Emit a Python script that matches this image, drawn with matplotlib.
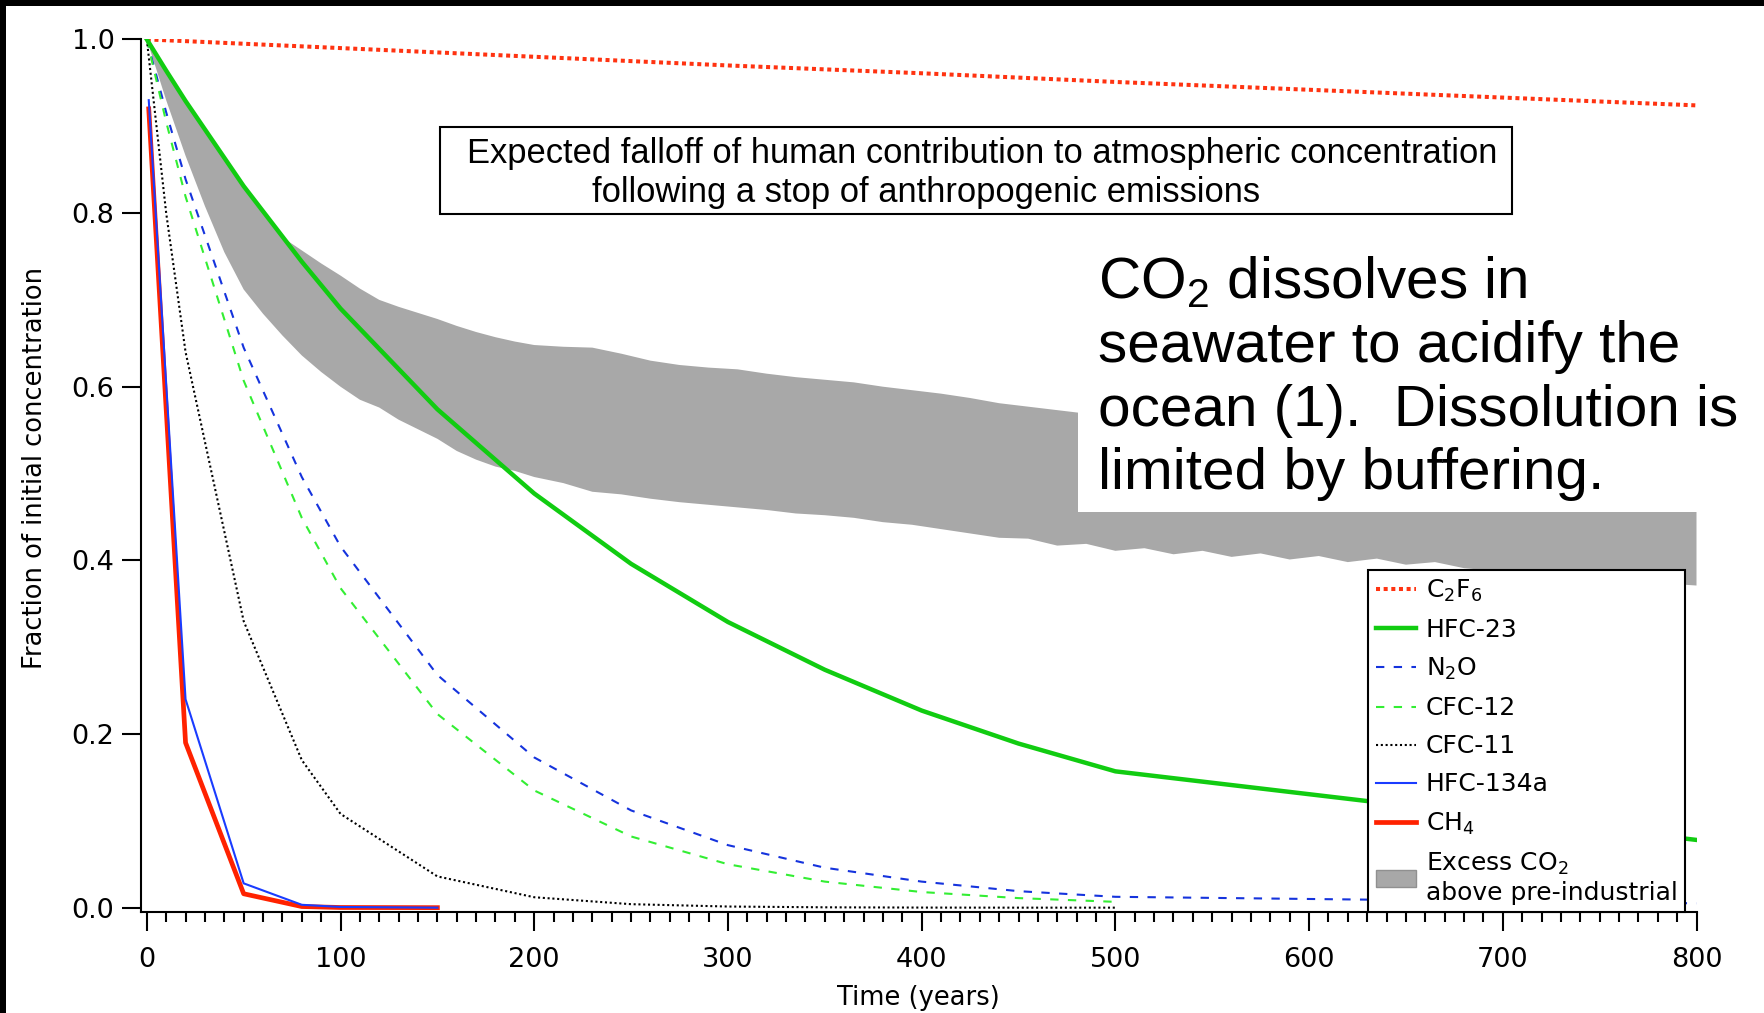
import matplotlib
matplotlib.use("Agg")
import matplotlib.pyplot as plt
import numpy as np
from matplotlib.lines import Line2D
from matplotlib.patches import Patch, Rectangle
from matplotlib.ticker import MultipleLocator, NullLocator, FormatStrFormatter

# ---------------------------------------------------------------- data
# Fraction of the initial human-caused excess remaining vs. time (years)
c2f6_years = [0, 100, 200, 300, 400, 500, 600, 700, 800]
c2f6_frac = [1.0, 0.990, 0.980, 0.970, 0.961, 0.951, 0.942, 0.933, 0.924]

hfc23_years = [0, 10, 20, 50, 80, 100, 150, 200, 250, 300, 350, 400, 450, 500, 800]
hfc23_frac = [1.0, 0.964, 0.929, 0.831, 0.744, 0.690, 0.574, 0.477, 0.396,
              0.329, 0.274, 0.227, 0.189, 0.157, 0.078]

n2o_years = [0, 10, 20, 50, 80, 100, 150, 200, 250, 300, 350, 400, 450, 500, 800]
n2o_frac = [1.0, 0.916, 0.839, 0.645, 0.496, 0.416, 0.268, 0.173, 0.112,
            0.072, 0.046, 0.030, 0.019, 0.0125, 0.005]

cfc12_years = [0, 10, 20, 50, 80, 100, 150, 200, 250, 300, 350, 400, 450, 500]
cfc12_frac = [1.0, 0.905, 0.819, 0.607, 0.449, 0.368, 0.223, 0.135, 0.082,
              0.050, 0.030, 0.018, 0.011, 0.0067]

cfc11_years = [0, 10, 20, 50, 80, 100, 150, 200, 250, 300, 350, 400, 450, 500]
cfc11_frac = [1.0, 0.80, 0.64, 0.33, 0.17, 0.108, 0.036, 0.012, 0.004,
              0.0013, 0.0004, 0.0001, 0.0, 0.0]

hfc134a_years = [1, 20, 50, 80, 100, 150]
hfc134a_frac = [0.93, 0.24, 0.028, 0.0033, 0.0008, 0.0]

ch4_years = [1, 20, 50, 80, 100, 150]
ch4_frac = [0.92, 0.19, 0.016, 0.0013, 0.0002, 0.0]

# Excess CO2 above pre-industrial: range of model results (upper / lower edge)
co2_upper_years = [0, 10, 20, 30, 40, 50, 60, 70, 80, 90, 100, 110, 120, 130,
                   140, 150, 160, 170, 180, 190, 200, 215, 230, 245, 260, 275,
                   290, 305, 320, 335, 350, 365, 380, 395, 410, 425, 440, 455,
                   470, 485, 500, 540, 580, 620, 660, 700, 740, 780, 800]
co2_upper = [1.0, 0.964, 0.929, 0.895, 0.862, 0.831, 0.800, 0.772, 0.757,
             0.742, 0.728, 0.713, 0.700, 0.692, 0.685, 0.678, 0.670, 0.663,
             0.657, 0.652, 0.648, 0.646, 0.645, 0.638, 0.630, 0.625, 0.622,
             0.620, 0.615, 0.611, 0.608, 0.605, 0.600, 0.596, 0.592, 0.587,
             0.581, 0.577, 0.573, 0.569, 0.567, 0.561, 0.555, 0.549, 0.543,
             0.537, 0.531, 0.525, 0.522]

co2_lower_years = [0, 10, 20, 30, 40, 50, 60, 70, 80, 90, 100, 110, 120, 130,
                   140, 150, 160, 170, 180, 190, 200, 215, 230, 245, 260, 275,
                   290, 305, 320, 335, 350, 365, 380, 395, 410, 425, 440, 455,
                   470, 485, 500, 515, 530, 545, 560, 575, 590, 605, 620, 635,
                   650, 665, 680, 700, 720, 740, 760, 780, 800]
co2_lower = [1.0, 0.930, 0.866, 0.808, 0.755, 0.712, 0.684, 0.659, 0.636,
             0.617, 0.600, 0.585, 0.576, 0.562, 0.551, 0.540, 0.526, 0.516,
             0.508, 0.503, 0.496, 0.489, 0.479, 0.476, 0.471, 0.467, 0.464,
             0.461, 0.458, 0.454, 0.452, 0.449, 0.444, 0.441, 0.436, 0.431,
             0.426, 0.425, 0.417, 0.419, 0.411, 0.414, 0.407, 0.411, 0.404,
             0.408, 0.401, 0.405, 0.398, 0.402, 0.395, 0.398, 0.391, 0.387,
             0.384, 0.381, 0.378, 0.374, 0.371]

x_ticks = [0, 100, 200, 300, 400, 500, 600, 700, 800]
y_ticks = [0.0, 0.2, 0.4, 0.6, 0.8, 1.0]

# ---------------------------------------------------------------- figure
W, H = 1764, 1013
fig = plt.figure(figsize=(W / 100, H / 100), dpi=100)
fig.patch.set_facecolor("white")

ax_l, ax_r, ax_t, ax_b = 141, 1696.5, 39.4, 912
ax = fig.add_axes([ax_l / W, 1 - ax_b / H, (ax_r - ax_l) / W, (ax_b - ax_t) / H])
ax.set_xlim(-3, 800)
ax.set_ylim(-0.005, 1.0)

for side in ("top", "right"):
    ax.spines[side].set_visible(False)
for side in ("left", "bottom"):
    ax.spines[side].set_linewidth(1.5)

ax.set_xticks(x_ticks)
ax.set_yticks(y_ticks)
ax.yaxis.set_major_formatter(FormatStrFormatter("%.1f"))
ax.xaxis.set_minor_locator(MultipleLocator(10))
ax.yaxis.set_minor_locator(NullLocator())
ax.tick_params(axis="both", which="major", direction="out", length=13.5,
               width=1.5, labelsize=19.5, colors="black")
ax.tick_params(axis="x", which="major", pad=12)
ax.tick_params(axis="y", which="major", pad=5.6)
ax.tick_params(axis="x", which="minor", direction="out", length=7, width=1.5)

ax.set_xlabel("Time (years)", fontsize=18.5, labelpad=8)
ax.set_ylabel("Fraction of initial concentration", fontsize=18.5)
ax.yaxis.set_label_coords((48 - ax_l) / (ax_r - ax_l), 0.509)

# Excess CO2 band
band_x = np.r_[co2_upper_years, co2_lower_years[::-1]]
band_y = np.r_[co2_upper, co2_lower[::-1]]
ax.fill(band_x, band_y, facecolor="#a8a8a8", edgecolor="none", zorder=1)

# white panel that holds the CO2 note
ax.add_patch(Rectangle(((1078 - ax_l) / (ax_r - ax_l), (ax_b - 512) / (ax_b - ax_t)),
                       0.5, 0.32, transform=ax.transAxes, facecolor="white",
                       edgecolor="none", zorder=2))

# gas curves
red_dot = "#ff3311"
ax.plot(c2f6_years, c2f6_frac, color=red_dot, lw=2.9,
        linestyle=(0, (1.0, 0.9)), dash_capstyle="butt", zorder=3)
ax.plot(hfc23_years, hfc23_frac, color="#11cc11", lw=3.2, zorder=3.2)
ax.plot(n2o_years, n2o_frac, color="#1533dd", lw=1.5,
        linestyle=(0, (4, 4.5)), zorder=3.1)
ax.plot(cfc12_years, cfc12_frac, color="#33ee33", lw=1.5,
        linestyle=(0, (4, 4.5)), zorder=3.1)
ax.plot(cfc11_years, cfc11_frac, color="black", lw=1.5,
        linestyle=(0, (1, 1.3)), zorder=3.1)
ax.plot(ch4_years, ch4_frac, color="#ff2200", lw=3.4, zorder=3.3)
ax.plot(hfc134a_years, hfc134a_frac, color="#1a3cff", lw=1.5, zorder=3.4)

handles = [
    Line2D([], [], color=red_dot, lw=2.9, linestyle=(0, (1.0, 0.9)),
           dash_capstyle="butt"),
    Line2D([], [], color="#11cc11", lw=3.2),
    Line2D([], [], color="#1533dd", lw=1.5, linestyle=(0, (4, 4.5))),
    Line2D([], [], color="#33ee33", lw=1.5, linestyle=(0, (4, 4.5))),
    Line2D([], [], color="black", lw=1.5, linestyle=(0, (1, 1.3))),
    Line2D([], [], color="#1a3cff", lw=1.5),
    Line2D([], [], color="#ff2200", lw=3.4),
    Patch(facecolor="#a8a8a8", edgecolor="#909090"),
]
labels = ["C$_2$F$_6$", "HFC-23", "N$_2$O", "CFC-12", "CFC-11", "HFC-134a",
          "CH$_4$", "Excess CO$_2$\nabove pre-industrial"]
leg = ax.legend(handles, labels, loc="lower left",
                bbox_to_anchor=((1368 - ax_l) / (ax_r - ax_l), 0.0),
                borderaxespad=0, fontsize=18, frameon=True, fancybox=False,
                edgecolor="black", framealpha=1, handlelength=1.6,
                handletextpad=0.4, borderpad=0.3, labelspacing=0.56)
leg.get_frame().set_linewidth(1.5)
leg.set_zorder(10)

# ---------------------------------------------------------------- annotations
note_font = "Liberation Sans"
renderer = fig.canvas.get_renderer()


def fit_width(texts, ref, width_px):
    w = ref.get_window_extent(renderer).width
    size = ref.get_fontsize() * width_px / w
    for t in texts:
        t.set_fontsize(size)


# boxed heading
fig.add_artist(Rectangle((440 / W, 1 - 214 / H), (1512 - 440) / W, 87 / H,
                         transform=fig.transFigure, facecolor="white",
                         edgecolor="black", lw=1.5, zorder=5))
h1 = fig.text(467 / W, 1 - 163 / H,
              "Expected falloff of human contribution to atmospheric concentration",
              family=note_font, fontsize=24, ha="left", va="baseline", zorder=6)
h2 = fig.text(592 / W, 1 - 202 / H,
              "following a stop of anthropogenic emissions",
              family=note_font, fontsize=24, ha="left", va="baseline", zorder=6)
fit_width([h1, h2], h1, 1030)

# CO2 note
note_lines = ["CO$_\\mathregular{2}$ dissolves in",
              "seawater to acidify the",
              "ocean (1).  Dissolution is",
              "limited by buffering."]
note_baselines = [298, 362, 426, 489]
notes = [fig.text(1098 / W, 1 - b / H, s, family=note_font, fontsize=40,
                  ha="left", va="baseline", zorder=6)
         for s, b in zip(note_lines, note_baselines)]
fit_width(notes, notes[2], 640)

# black frame along the top and left edges
fig.add_artist(Rectangle((0, 1 - 6 / H), 1, 6 / H, transform=fig.transFigure,
                         facecolor="black", edgecolor="none", zorder=20))
fig.add_artist(Rectangle((0, 0), 6 / W, 1, transform=fig.transFigure,
                         facecolor="black", edgecolor="none", zorder=20))

fig.savefig("out.png", dpi=100, facecolor="white")
